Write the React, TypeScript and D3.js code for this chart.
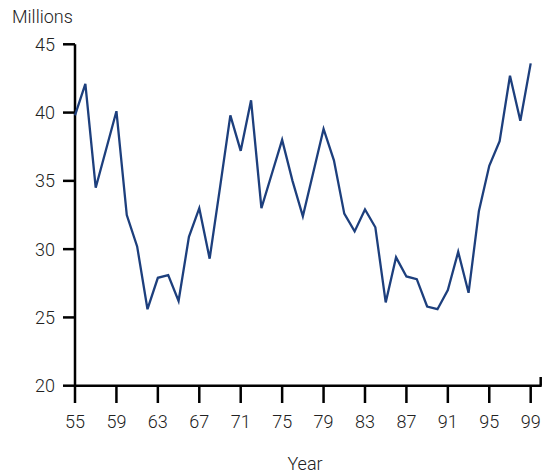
import React from "react";
import * as d3 from "d3";

const years: number[] = [55,56,57,58,59,60,61,62,63,64,65,66,67,68,69,70,71,72,73,74,75,76,77,78,79,80,81,82,83,84,85,86,87,88,89,90,91,92,93,94,95,96,97,98,99];
const values: number[] = [39.8,42.1,34.5,37.3,40.1,32.5,30.2,25.6,27.9,28.1,26.2,30.9,33.0,29.3,34.5,39.8,37.2,40.9,33.0,35.5,38.0,35.0,32.4,35.6,38.8,36.5,32.6,31.3,32.9,31.6,26.1,29.4,28.0,27.8,25.8,25.6,27.0,29.8,26.8,32.8,36.1,37.9,42.7,39.4,43.6];
const xTicks: number[] = [55,59,63,67,71,75,79,83,87,91,95,99];
const yTicks: number[] = [20,25,30,35,40,45];

export default function App() {
  const x = d3.scaleLinear().domain([55, 99]).range([75, 530.7]);
  const y = d3.scaleLinear().domain([20, 45]).range([385.7, 44.3]);
  const line = d3.line<number>().x((_, i) => x(years[i])).y((d) => y(d));
  const font = "Roboto, 'Liberation Sans', sans-serif";
  const fs = 18;
  const axisY = y(20);
  const axisEnd = 540.7;
  return (
    <svg width={551} height={475} style={{ position: "absolute", left: 0, top: 0, background: "#fff" }}>
      <text x={12} y={23} fontFamily={font} fontWeight={300} fontSize={fs} fill="#222">Millions</text>
      {/* y axis */}
      <line x1={x(55)} x2={x(55)} y1={y(45)} y2={axisY} stroke="#000" strokeWidth={2.5} />
      {yTicks.map((t) => (
        <g key={"y" + t}>
          <line x1={63} x2={x(55)} y1={y(t)} y2={y(t)} stroke="#000" strokeWidth={2.5} />
          <text x={55} y={y(t)} dy="0.36em" textAnchor="end" fontFamily={font} fontWeight={300} fontSize={fs} fill="#222">{t}</text>
        </g>
      ))}
      {/* x axis */}
      <line x1={x(55) - 1} x2={axisEnd + 1} y1={axisY} y2={axisY} stroke="#000" strokeWidth={2.5} />
      <line x1={axisEnd} x2={axisEnd} y1={377} y2={axisY} stroke="#000" strokeWidth={2.5} />
      {xTicks.map((t) => (
        <g key={"x" + t}>
          <line x1={x(t)} x2={x(t)} y1={axisY} y2={403} stroke="#000" strokeWidth={2.5} />
          <text x={x(t)} y={428} textAnchor="middle" fontFamily={font} fontWeight={300} fontSize={fs} fill="#222">{t}</text>
        </g>
      ))}
      <text x={305} y={470} textAnchor="middle" fontFamily={font} fontWeight={300} fontSize={fs} fill="#222">Year</text>
      <path d={line(values) || ""} fill="none" stroke="#1d3f7d" strokeWidth={2.3} strokeLinejoin="miter" />
    </svg>
  );
}
